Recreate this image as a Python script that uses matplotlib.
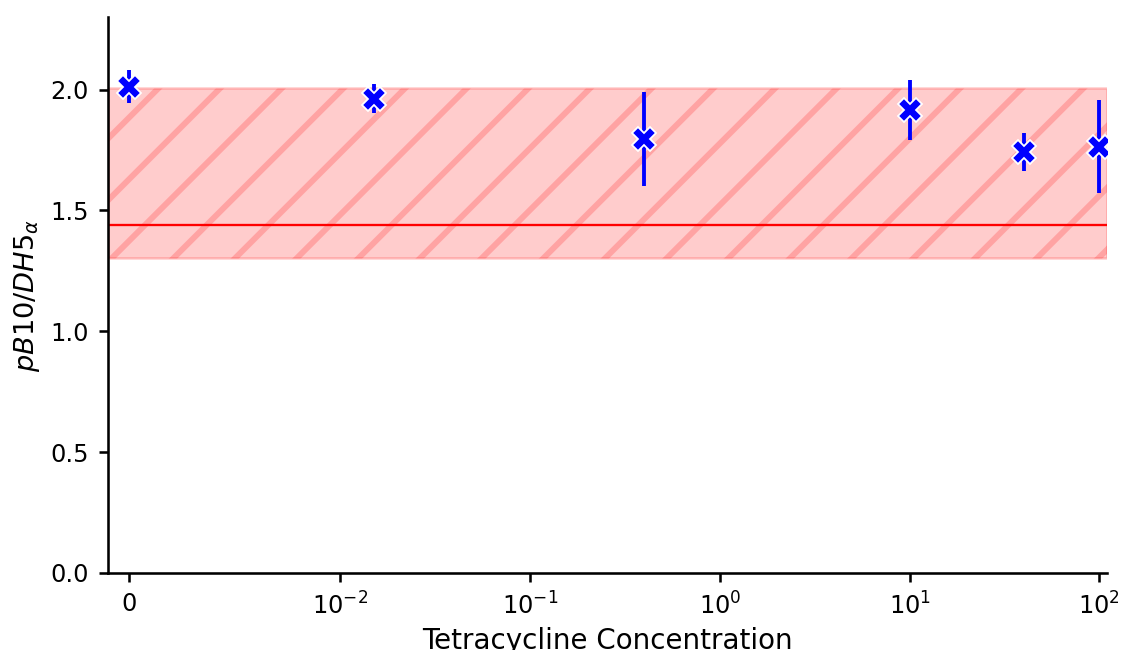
import matplotlib
matplotlib.use("Agg")
import matplotlib.pyplot as plt
from matplotlib.ticker import NullLocator

# Data
conc = [0, 0.015, 0.4, 10, 40, 100]
ratio = [2.012, 1.961, 1.796, 1.915, 1.741, 1.763]
ratio_err = [0.067, 0.060, 0.193, 0.123, 0.080, 0.192]
band_low, band_high = 1.302, 2.007
ref_line = 1.438
xticks = [0, 1e-2, 1e-1, 1e0, 1e1, 1e2]
yticks = [0.0, 0.5, 1.0, 1.5, 2.0]

DPI = 370
plt.rcParams["font.family"] = "DejaVu Sans"
plt.rcParams["hatch.linewidth"] = 1.15

fig = plt.figure(figsize=(1122 / DPI, 650 / DPI), dpi=DPI)
ax = fig.add_axes([0.0963, 0.1185, 0.8903, 0.8553])

# Reference band and line
ax.axhspan(band_low, band_high, color="red", alpha=0.2, hatch="//", linewidth=0.5)
ax.axhline(ref_line, color="red", linewidth=0.45)

# Measurements
ax.errorbar(conc, ratio, yerr=ratio_err, fmt="X", color="blue",
            markersize=4.8, markeredgecolor="white", markeredgewidth=0.35,
            elinewidth=0.75, capsize=0)

ax.set_xscale("symlog", linthresh=1e-2)
ax.set_xlim(-0.00101, 109.6)
ax.set_ylim(0, 2.3)
ax.set_xticks(xticks)
ax.set_yticks(yticks)
ax.xaxis.set_minor_locator(NullLocator())

ax.spines["top"].set_visible(False)
ax.spines["right"].set_visible(False)
for sp in ("left", "bottom"):
    ax.spines[sp].set_linewidth(0.5)
ax.tick_params(labelsize=4.7, length=1.75, width=0.5, pad=2.0)

ax.set_xlabel("Tetracycline Concentration", fontsize=5.4, labelpad=1.5)
ax.set_ylabel(r"$pB10/DH5_{\alpha}$", fontsize=5.3, labelpad=1.6)

fig.savefig("out.png", dpi=DPI)
